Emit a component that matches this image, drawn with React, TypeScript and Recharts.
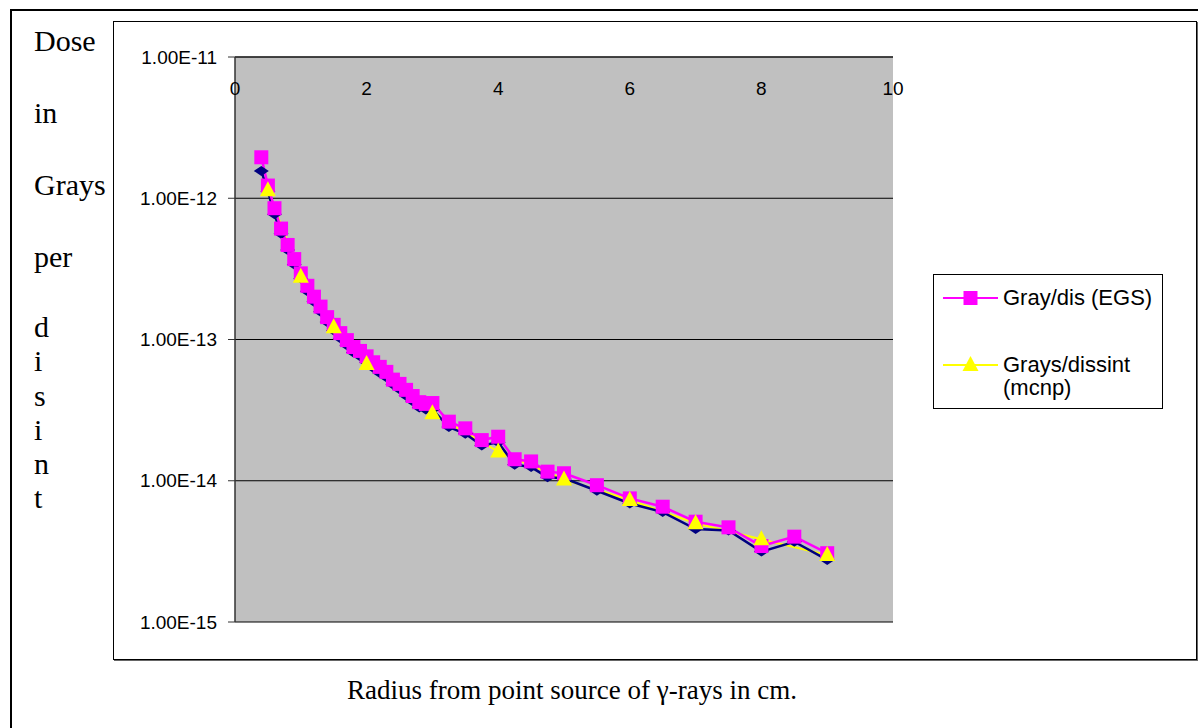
import React from "react";
import { LineChart, Line, XAxis, YAxis, CartesianGrid, Legend } from "recharts";

// radius (cm) for the EGS run and the hidden reference run
const radiusEgs = [
  0.4, 0.5, 0.6, 0.7, 0.8, 0.9, 1.0, 1.1, 1.2, 1.3, 1.4, 1.5, 1.6, 1.7, 1.8, 1.9, 2.0, 2.1, 2.2, 2.3,
  2.4, 2.5, 2.6, 2.7, 2.8, 2.9, 3.0, 3.25, 3.5, 3.75, 4.0, 4.25, 4.5, 4.75, 5.0, 5.5, 6.0, 6.5, 7.0,
  7.5, 8.0, 8.5, 9.0,
];
const doseEgs = [
  1.95e-12, 1.23e-12, 8.5e-13, 6.1e-13, 4.67e-13, 3.71e-13, 2.94e-13, 2.4e-13, 2.01e-13, 1.71e-13,
  1.44e-13, 1.27e-13, 1.11e-13, 9.9e-14, 8.85e-14, 8.3e-14, 7.6e-14, 6.9e-14, 6.4e-14, 5.9e-14,
  5.2e-14, 4.85e-14, 4.4e-14, 3.98e-14, 3.6e-14, 3.5e-14, 3.55e-14, 2.62e-14, 2.35e-14, 1.94e-14,
  2.05e-14, 1.42e-14, 1.37e-14, 1.16e-14, 1.13e-14, 9.3e-15, 7.5e-15, 6.55e-15, 5.13e-15, 4.68e-15,
  3.45e-15, 4.02e-15, 3.07e-15,
];
const doseNavy = [
  1.56e-12, 1.12e-12, 7.7e-13, 5.6e-13, 4.3e-13, 3.4e-13, 2.7e-13, 2.2e-13, 1.85e-13, 1.57e-13,
  1.33e-13, 1.16e-13, 1.02e-13, 9.1e-14, 8.1e-14, 7.6e-14, 6.9e-14, 6.3e-14, 5.8e-14, 5.4e-14,
  4.8e-14, 4.45e-14, 4.0e-14, 3.65e-14, 3.3e-14, 3.2e-14, 3.2e-14, 2.4e-14, 2.15e-14, 1.78e-14,
  1.87e-14, 1.3e-14, 1.25e-14, 1.06e-14, 1.04e-14, 8.5e-15, 6.9e-15, 6.0e-15, 4.55e-15, 4.45e-15,
  3.15e-15, 3.7e-15, 2.75e-15,
];

const radiusMcnp = [0.5, 1, 1.5, 2, 3, 4, 5, 6, 7, 8, 9];
const doseMcnp = [
  1.14e-12, 2.78e-13, 1.22e-13, 6.7e-14, 3.0e-14, 1.61e-14, 1.02e-14, 7.3e-15, 5.0e-15, 3.85e-15,
  2.98e-15,
];

const xTicks = [0, 2, 4, 6, 8, 10];
const yTicks = [1e-15, 1e-14, 1e-13, 1e-12, 1e-11];

const seriesEgs = "Gray/dis (EGS)";
const seriesMcnp = "Grays/dissint (mcnp)";
const yTitleWords = ["Dose", "in", "Grays", "per"];
const yTitleLetters = ["d", "i", "s", "i", "n", "t"];
const xTitle = "Radius from point source of γ-rays in cm.";

const egsData = radiusEgs.map((r, i) => ({ r, dose: doseEgs[i] }));
const navyData = radiusEgs.map((r, i) => ({ r, dose: doseNavy[i] }));
const mcnpData = radiusMcnp.map((r, i) => ({ r, dose: doseMcnp[i] }));

const SANS = "'Liberation Sans', Arial, sans-serif";
const SERIF = "'Liberation Serif', 'Times New Roman', serif";

const squarePath = (cx: number, cy: number) => `M${cx - 7},${cy - 7}h14v14h-14z`;
const trianglePath = (cx: number, cy: number) => `M${cx},${cy - 9}L${cx + 8},${cy + 6}L${cx - 8},${cy + 6}z`;
const diamondPath = (cx: number, cy: number) => `M${cx},${cy - 5}L${cx + 7.5},${cy}L${cx},${cy + 5}L${cx - 7.5},${cy}z`;

const makeDot = (shape: (cx: number, cy: number) => string, fill: string, name: string) =>
  // eslint-disable-next-line @typescript-eslint/no-explicit-any
  (p: any) => {
    if (p.cx == null || p.cy == null) return <g key={`${name}-${p.index}`} />;
    return <path key={`${name}-${p.index}`} d={shape(p.cx, p.cy)} fill={fill} />;
  };

// x labels sit just under the top edge of the plot
// eslint-disable-next-line @typescript-eslint/no-explicit-any
const TopTick = (props: any) => {
  const { x, y, payload } = props;
  return (
    <text x={x} y={y + 38} textAnchor="middle" fontFamily={SANS} fontSize={19} fill="#000">
      {payload.value}
    </text>
  );
};

const legendMarks: Record<string, { shape: (cx: number, cy: number) => string; fill: string }> = {
  [seriesEgs]: { shape: squarePath, fill: "#ff00ff" },
  [seriesMcnp]: { shape: trianglePath, fill: "#ffff00" },
};
const legendOrder = [seriesEgs, seriesMcnp];

// eslint-disable-next-line @typescript-eslint/no-explicit-any
const LegendBox = (props: any) => {
  const items = legendOrder
    // eslint-disable-next-line @typescript-eslint/no-explicit-any
    .map((name) => (props.payload || []).find((p: any) => p.value === name))
    .filter(Boolean);
  return (
    <div
      style={{
        position: "relative",
        width: 230,
        height: 135,
        boxSizing: "border-box",
        border: "1px solid #000",
        background: "#fff",
        fontFamily: SANS,
        fontSize: 22,
        color: "#000",
      }}
    >
      {/* eslint-disable-next-line @typescript-eslint/no-explicit-any */}
      {items.map((it: any, i: number) => {
        const mark = legendMarks[it.value];
        return (
          <div key={it.value} style={{ position: "absolute", left: 0, top: i === 0 ? 11 : 78 }}>
            <svg width={66} height={24} style={{ position: "absolute", left: 0, top: 0 }}>
              <line x1={9} y1={12} x2={64} y2={12} stroke={it.color} strokeWidth={2} />
              <path d={mark.shape(36.5, 12)} fill={mark.fill} />
            </svg>
            <div style={{ position: "absolute", left: 69, top: 0, width: 150, lineHeight: "23px" }}>
              {it.value}
            </div>
          </div>
        );
      })}
    </div>
  );
};

export default function App() {
  return (
    <div
      style={{
        position: "absolute",
        left: 0,
        top: 0,
        width: 1198,
        height: 728,
        overflow: "hidden",
        background: "#fff",
      }}
    >
      <div
        style={{
          position: "absolute",
          left: 10,
          top: 9,
          width: 1188,
          height: 719,
          borderTop: "2px solid #000",
          borderLeft: "2px solid #000",
          boxSizing: "border-box",
        }}
      />
      <div
        style={{
          position: "absolute",
          left: 113,
          top: 21,
          width: 1084,
          height: 639,
          border: "1px solid #000",
          boxShadow: "1px 1px 0 #666",
          boxSizing: "border-box",
        }}
      />

      <div style={{ position: "absolute", left: 34, top: 5, fontFamily: SERIF, fontSize: 30, lineHeight: "72px" }}>
        {yTitleWords.map((w) => (
          <div key={w}>{w}</div>
        ))}
      </div>
      <div style={{ position: "absolute", left: 34, top: 310, fontFamily: SERIF, fontSize: 30, lineHeight: "34.3px" }}>
        {yTitleLetters.map((w, i) => (
          <div key={i}>{w}</div>
        ))}
      </div>
      <div
        style={{
          position: "absolute",
          left: 272,
          top: 675,
          width: 600,
          textAlign: "center",
          fontFamily: SERIF,
          fontSize: 27,
          lineHeight: "30px",
        }}
      >
        {xTitle}
      </div>

      <div style={{ position: "absolute", left: 113, top: 21 }}>
        <LineChart width={1083} height={638} margin={{ top: 35, right: 303, bottom: 37, left: 0 }}>
          <CartesianGrid vertical={false} stroke="#000" fill="#c0c0c0" fillOpacity={1} />
          <XAxis
            type="number"
            dataKey="r"
            orientation="top"
            height={1}
            domain={[0, 10]}
            ticks={xTicks}
            interval={0}
            tickSize={0}
            tickMargin={0}
            tickLine={false}
            tick={<TopTick />}
            axisLine={{ stroke: "#333", strokeWidth: 1.5 }}
            allowDataOverflow
          />
          <YAxis
            type="number"
            scale="log"
            domain={[1e-15, 1e-11]}
            ticks={yTicks}
            interval={0}
            width={122}
            tickSize={7}
            tickMargin={11}
            tickFormatter={(v: number) => v.toExponential(2).toUpperCase()}
            tick={{ fontFamily: SANS, fontSize: 19, fill: "#000" }}
            tickLine={{ stroke: "#333" }}
            axisLine={{ stroke: "#333", strokeWidth: 1.5 }}
            allowDataOverflow
          />
          <Legend
            layout="vertical"
            align="center"
            verticalAlign="middle"
            content={<LegendBox />}
            wrapperStyle={{ left: 820, top: 253, width: 230, height: 135 }}
          />
          {/* mcnp line sits underneath the other two series */}
          <Line
            data={mcnpData}
            dataKey="dose"
            name={seriesMcnp}
            stroke="#ffff00"
            strokeWidth={2}
            dot={false}
            isAnimationActive={false}
          />
          <Line
            data={navyData}
            dataKey="dose"
            name="navy"
            stroke="#000080"
            strokeWidth={2.5}
            dot={makeDot(diamondPath, "#000080", "dia")}
            legendType="none"
            isAnimationActive={false}
          />
          <Line
            data={egsData}
            dataKey="dose"
            name={seriesEgs}
            stroke="#ff00ff"
            strokeWidth={2.5}
            dot={makeDot(squarePath, "#ff00ff", "sq")}
            isAnimationActive={false}
          />
          <Line
            data={mcnpData}
            dataKey="dose"
            name="mcnp markers"
            stroke="none"
            dot={makeDot(trianglePath, "#ffff00", "tri")}
            legendType="none"
            isAnimationActive={false}
          />
        </LineChart>
      </div>
    </div>
  );
}
